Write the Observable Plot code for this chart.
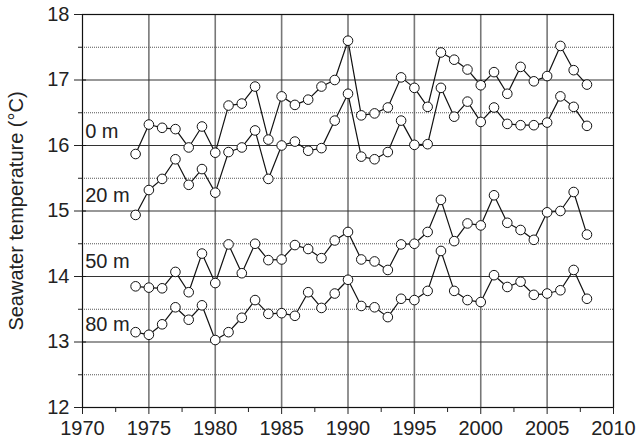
<!DOCTYPE html>
<html>
<head>
<meta charset="utf-8">
<script src="https://cdn.jsdelivr.net/npm/d3@7"></script>
<script src="https://cdn.jsdelivr.net/npm/@observablehq/plot@0.6"></script>
<style>
  html, body { margin: 0; padding: 0; background: #fff; }
  #chart svg { display: block; }
</style>
</head>
<body>
<div id="chart"></div>
<script>
const years = [1974,1975,1976,1977,1978,1979,1980,1981,1982,1983,1984,1985,1986,1987,1988,1989,1990,
  1991,1992,1993,1994,1995,1996,1997,1998,1999,2000,2001,2002,2003,2004,2005,2006,2007,2008];
const depths = ["0 m", "20 m", "50 m", "80 m"];
const t0 = [15.87,16.32,16.27,16.25,15.97,16.29,15.89,16.61,16.64,16.90,16.09,16.75,16.62,16.70,16.90,17.00,17.60,
  16.46,16.49,16.58,17.04,16.88,16.59,17.42,17.31,17.16,16.92,17.12,16.79,17.20,16.98,17.06,17.52,17.15,16.93];
const t20 = [14.94,15.32,15.49,15.79,15.40,15.64,15.28,15.90,15.97,16.23,15.49,16.00,16.06,15.92,15.96,16.38,16.79,
  15.83,15.79,15.90,16.38,16.01,16.02,16.88,16.44,16.67,16.36,16.58,16.33,16.31,16.31,16.35,16.75,16.59,16.30];
const t50 = [13.85,13.83,13.82,14.07,13.76,14.35,13.90,14.49,14.05,14.50,14.25,14.26,14.48,14.42,14.28,14.55,14.68,
  14.26,14.23,14.10,14.49,14.50,14.68,15.17,14.54,14.81,14.78,15.24,14.82,14.71,14.56,14.98,15.00,15.29,14.64];
const t80 = [13.15,13.11,13.27,13.53,13.34,13.56,13.03,13.15,13.37,13.64,13.43,13.44,13.40,13.76,13.52,13.74,13.95,
  13.55,13.53,13.38,13.66,13.64,13.78,14.39,13.78,13.64,13.61,14.02,13.84,13.92,13.72,13.74,13.79,14.10,13.66];
const xTicks = [1970,1975,1980,1985,1990,1995,2000,2005,2010];
const xMinor = [1972.5,1977.5,1982.5,1987.5,1992.5,1997.5,2002.5,2007.5];
const yTicks = [12,13,14,15,16,17,18];
const yHalf = [12.5,13.5,14.5,15.5,16.5,17.5];
const yLabel = "Seawater temperature (°C)";

const series = [t0, t20, t50, t80];
const data = [];
depths.forEach((d, i) => years.forEach((yr, j) => data.push({depth: d, year: yr, temp: series[i][j]})));

// label placement (anchor year and temperature for each depth label)
const labelPos = [
  {text: depths[0], year: 1970.2, temp: 16.21},
  {text: depths[1], year: 1970.2, temp: 15.24},
  {text: depths[2], year: 1970.2, temp: 14.22},
  {text: depths[3], year: 1970.2, temp: 13.27}
];

const font = "'Liberation Sans', Arial, Helvetica, sans-serif";
const fs = 20;

const chart = Plot.plot({
  width: 641,
  height: 447,
  marginLeft: 82,
  marginRight: 28,
  marginTop: 14,
  marginBottom: 40,
  style: {fontFamily: font, fontSize: fs + "px", color: "#222", background: "#fff", overflow: "visible"},
  x: {type: "linear", domain: [1970, 2010]},
  y: {type: "linear", domain: [12, 18]},
  marks: [
    Plot.ruleX(xTicks.slice(1, -1), {x: d => d, stroke: "#777", strokeWidth: 1.6}),
    Plot.ruleY(yTicks.slice(1, -1), {y: d => d, stroke: "#333", strokeWidth: 1.1}),
    Plot.ruleY(yHalf, {y: d => d, stroke: "#555", strokeWidth: 1, strokeDasharray: "1,1"}),
    Plot.frame({stroke: "#111", strokeWidth: 1.2}),
    Plot.axisX({ticks: xTicks, tickFormat: d => String(d), tickSize: 7, tickPadding: 6, label: null, fontSize: fs}),
    Plot.axisX({ticks: xMinor, tickSize: 5, tickFormat: () => "", label: null}),
    Plot.axisY({ticks: yTicks, tickFormat: d => String(d), tickSize: 8, tickPadding: 5, label: yLabel, labelAnchor: "center", labelArrow: "none", labelOffset: 74, fontSize: fs}),
    Plot.ruleY(yTicks, {y: d => d, x1: 1970, x2: 1970.3, stroke: "#111"}),
    Plot.axisY({ticks: yHalf, tickSize: 4, tickFormat: () => "", label: null}),
    Plot.text(labelPos, {x: "year", y: "temp", text: "text", textAnchor: "start", fontSize: fs, fill: "#222", dx: 0}),
    Plot.line(data, {x: "year", y: "temp", z: "depth", stroke: "#111", strokeWidth: 1.2}),
    Plot.dot(data, {x: "year", y: "temp", r: 4.8, fill: "white", stroke: "#111", strokeWidth: 1})
  ]
});
document.getElementById("chart").appendChild(chart);
</script>
</body>
</html>
